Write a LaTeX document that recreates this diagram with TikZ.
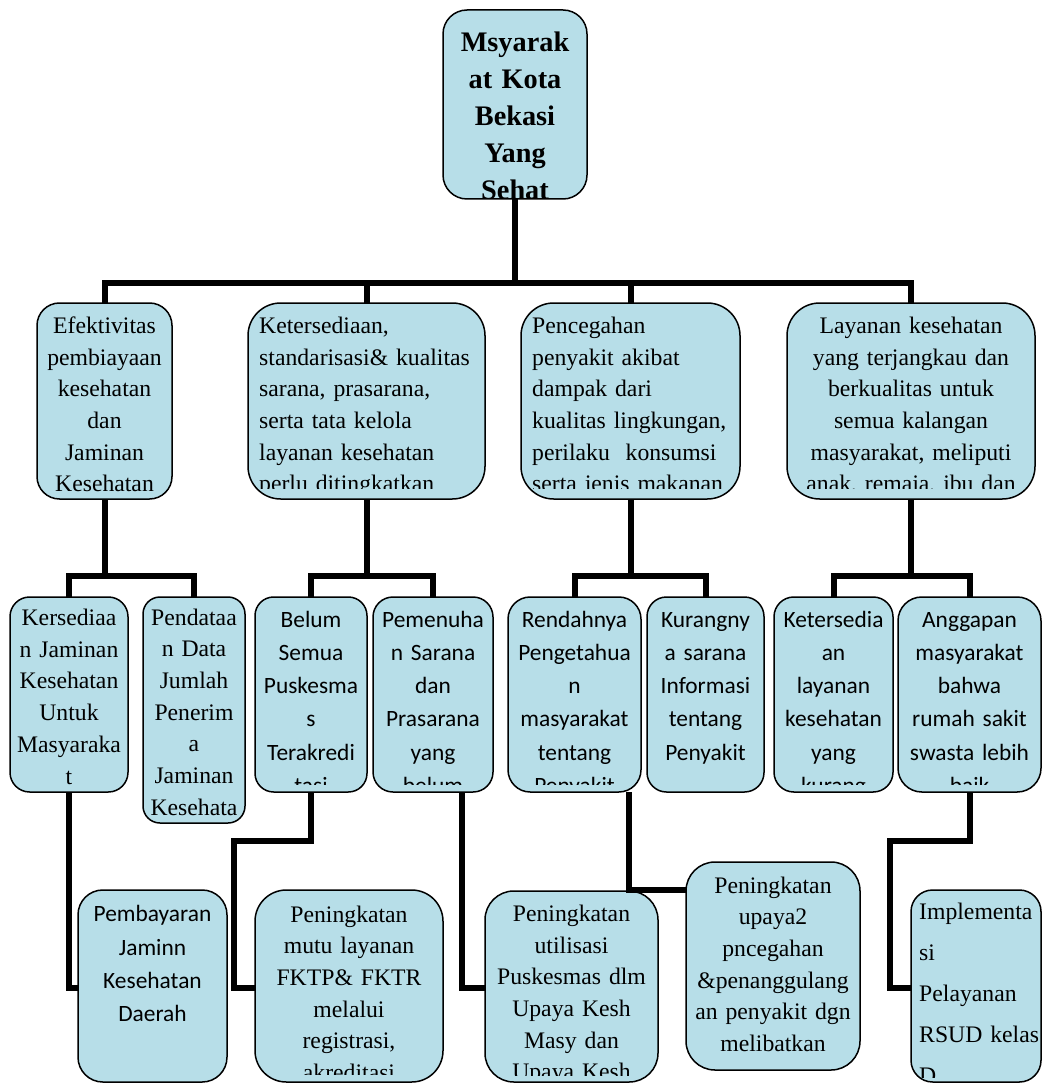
\documentclass[tikz,border=0pt]{standalone}
\usepackage{fontspec}
\setmainfont{Liberation Serif}
\newfontfamily\calfont{Carlito}
\pgfdeclarelayer{background}
\pgfsetlayers{background,main}
\definecolor{boxfill}{RGB}{183,222,232}
\tikzset{
  frame/.style={draw=black, line width=1.5pt, fill=boxfill, inner sep=0pt, outer sep=0pt},
  conn/.style={draw=black, line width=6pt},
  ttop/.style={font={\bfseries\fontsize{28.3}{37}\selectfont}, inner sep=0pt, align=center, anchor=base},
  tmc/.style={font={\fontsize{23.7}{31.7}\selectfont}, inner sep=0pt, align=center, anchor=base},
  tml/.style={font={\fontsize{23.7}{31.7}\selectfont}, inner sep=0pt, align=left, anchor=base west, text width=240pt},
  tmw/.style={font={\fontsize{23.7}{41}\selectfont}, inner sep=0pt, align=left, anchor=base west, text width=200pt},
  cbc/.style={font={\calfont\fontsize{23.4}{33.3}\selectfont}, inner sep=0pt, align=center, anchor=base},
}
\newcommand\frm[5]{%
  \pgfmathsetmacro\myfw{#4-#2}%
  \pgfmathsetmacro\myfh{#5-#3}%
  \pgfmathsetmacro\myfr{0.1667*min(\myfw,\myfh)}%
  \node[frame, minimum width=\myfw pt, minimum height=\myfh pt, rounded corners=\myfr pt] (#1) at ({(#2+#4)/2},{(#3+#5)/2}) {};}
\newcommand\txt[5]{\begin{scope}\clip (#1,#2) rectangle (#3,#4); #5\end{scope}}
\begin{document}
\begin{tikzpicture}[x=1pt,y=-1pt]
\useasboundingbox (0,0) rectangle (1043,1083);

% ---------- top ----------
\frm{T}{443}{10}{587}{199}
\txt{443}{10}{587}{197.5}{\node[ttop, text width=140pt] (tT) at (515,51.7) {Msyarak\\at Kota\\Bekasi\\Yang\\Sehat};}

% ---------- level 2 ----------
\frm{B1}{37}{303}{172}{499}
\txt{37}{303}{172}{494}{\node[tmc, text width=130pt] (tB1) at (104.5,333.3) {Efektivitas\\pembiayaan\\kesehatan\\dan\\Jaminan\\Kesehatan};}
\frm{B2}{248}{303}{485}{499}
\txt{248}{303}{485}{488.3}{\node[tml] (tB2) at (259,333.3) {Ketersediaan,\\standarisasi\& kualitas\\sarana, prasarana,\\serta tata kelola\\layanan kesehatan\\perlu ditingkatkan};}
\frm{B3}{521}{303}{740}{499}
\txt{521}{303}{740}{488.3}{\node[tml] (tB3) at (532,333.3) {Pencegahan\\penyakit akibat\\dampak dari\\kualitas lingkungan,\\perilaku\ \ konsumsi\\serta jenis makanan};}
\frm{B4}{787}{303}{1035}{499}
\txt{787}{303}{1035}{488.3}{\node[tmc, text width=240pt] (tB4) at (911,333.3) {Layanan kesehatan\\yang terjangkau dan\\berkualitas untuk\\semua kalangan\\masyarakat, meliputi\\anak, remaja, ibu dan};}

% ---------- level 3 ----------
\frm{C1}{10}{597}{128}{792}
\txt{10}{597}{128}{787}{\node[tmc, text width=116pt] (tC1) at (69,625.5) {Kersediaa\\n Jaminan\\Kesehatan\\Untuk\\Masyaraka\\t};}
\frm{C2}{143}{597}{245}{823}
\txt{143}{597}{245}{818}{\node[tmc, text width=100pt] (tC2) at (194,625) {Pendataa\\n Data\\Jumlah\\Penerim\\a\\Jaminan\\Kesehata};}
\frm{C3}{255}{597}{367}{792}
\txt{255}{597}{367}{784}{\node[cbc, text width=110pt] (tC3) at (311,627) {Belum\\Semua\\Puskesma\\s\\Terakredi\\tasi};}
\frm{C4}{373}{597}{493}{792}
\txt{373}{597}{493}{784}{\node[cbc, text width=118pt] (tC4) at (433,627) {Pemenuha\\n Sarana\\dan\\Prasarana\\yang\\belum};}
\frm{C5}{508}{597}{641}{792}
\txt{508}{597}{641}{784}{\node[cbc, text width=131pt] (tC5) at (574.5,627) {Rendahnya\\Pengetahua\\n\\masyarakat\\tentang\\Penyakit};}
\frm{C6}{647}{597}{764}{792}
\txt{647}{597}{764}{784}{\node[cbc, text width=115pt] (tC6) at (705.5,627) {Kurangny\\a sarana\\Informasi\\tentang\\Penyakit};}
\frm{C7}{774}{597}{893}{792}
\txt{774}{597}{893}{784}{\node[cbc, text width=117pt] (tC7) at (833.5,627) {Ketersedia\\an\\layanan\\kesehatan\\yang\\kurang};}
\frm{C8}{898}{597}{1041}{792}
\txt{898}{597}{1041}{784}{\node[cbc, text width=141pt] (tC8) at (969.5,627) {Anggapan\\masyarakat\\bahwa\\rumah sakit\\swasta lebih\\baik};}

% ---------- level 4 ----------
\frm{D1}{78}{890}{227}{1082}
\txt{78}{890}{227}{1075}{\node[cbc, text width=147pt] (tD1) at (152.5,921.7) {Pembayaran\\Jaminn\\Kesehatan\\Daerah};}
\frm{D2}{255}{890}{443}{1082}
\txt{255}{890}{443}{1074}{\node[tmc, text width=186pt] (tD2) at (349,922) {Peningkatan\\mutu layanan\\FKTP\& FKTR\\melalui\\registrasi,\\akreditasi};}
\frm{D3}{485}{891}{658}{1082}
\txt{485}{891}{658}{1075}{\node[tmc, text width=171pt] (tD3) at (571.5,921.3) {Peningkatan\\utilisasi\\Puskesmas dlm\\Upaya Kesh\\Masy dan\\Upaya Kesh};}
\frm{D4}{686}{862}{860}{1070}
\txt{686}{862}{860}{1062}{\node[tmc, text width=172pt] (tD4) at (773,893) {Peningkatan\\upaya2\\pncegahan\\\&penanggulang\\an penyakit dgn\\melibatkan};}
\frm{D5}{911}{890}{1041}{1082}
\txt{911}{890}{1041}{1077}{\node[tmw] (tD5) at (919,919.7) {Implementa\\si\\Pelayanan\\RSUD kelas\\D};}

% ---------- connectors ----------
\coordinate (bus0) at (515,283);
\coordinate (bus1) at (0,576);
\coordinate (k1) at (234,841);
\coordinate (k2) at (890,841);
\coordinate (r1) at (0,988);
\coordinate (c4o) at (462,792);
\coordinate (c5o) at (629,792);
\coordinate (c5e) at (0,890);

\begin{pgfonlayer}{background}
\draw[conn] (T.south) -- (T.south |- bus0);
\draw[conn] (B1.north) |- (B4.north |- bus0) -- (B4.north);
\draw[conn] (B2.north) -- (B2.north |- bus0);
\draw[conn] (B3.north) -- (B3.north |- bus0);

\draw[conn] (B1.south) -- (B1.south |- bus1);
\draw[conn] (C1.north) |- (C2.north |- bus1) -- (C2.north);
\draw[conn] (B2.south) -- (B2.south |- bus1);
\draw[conn] (C3.north) |- (C4.north |- bus1) -- (C4.north);
\draw[conn] (B3.south) -- (B3.south |- bus1);
\draw[conn] (C5.north) |- (C6.north |- bus1) -- (C6.north);
\draw[conn] (B4.south) -- (B4.south |- bus1);
\draw[conn] (C7.north) |- (C8.north |- bus1) -- (C8.north);

\draw[conn] (C1.south) |- (D1.west |- r1);
\draw[conn] (C3.south) |- (k1) |- (D2.west |- r1);
\draw[conn] (c4o) |- (D3.west |- r1);
\draw[conn] (C8.south) |- (k2) |- (D5.west |- r1);
\end{pgfonlayer}
\draw[conn] (c5o) |- (D4.west |- c5e);
\end{tikzpicture}
\end{document}
